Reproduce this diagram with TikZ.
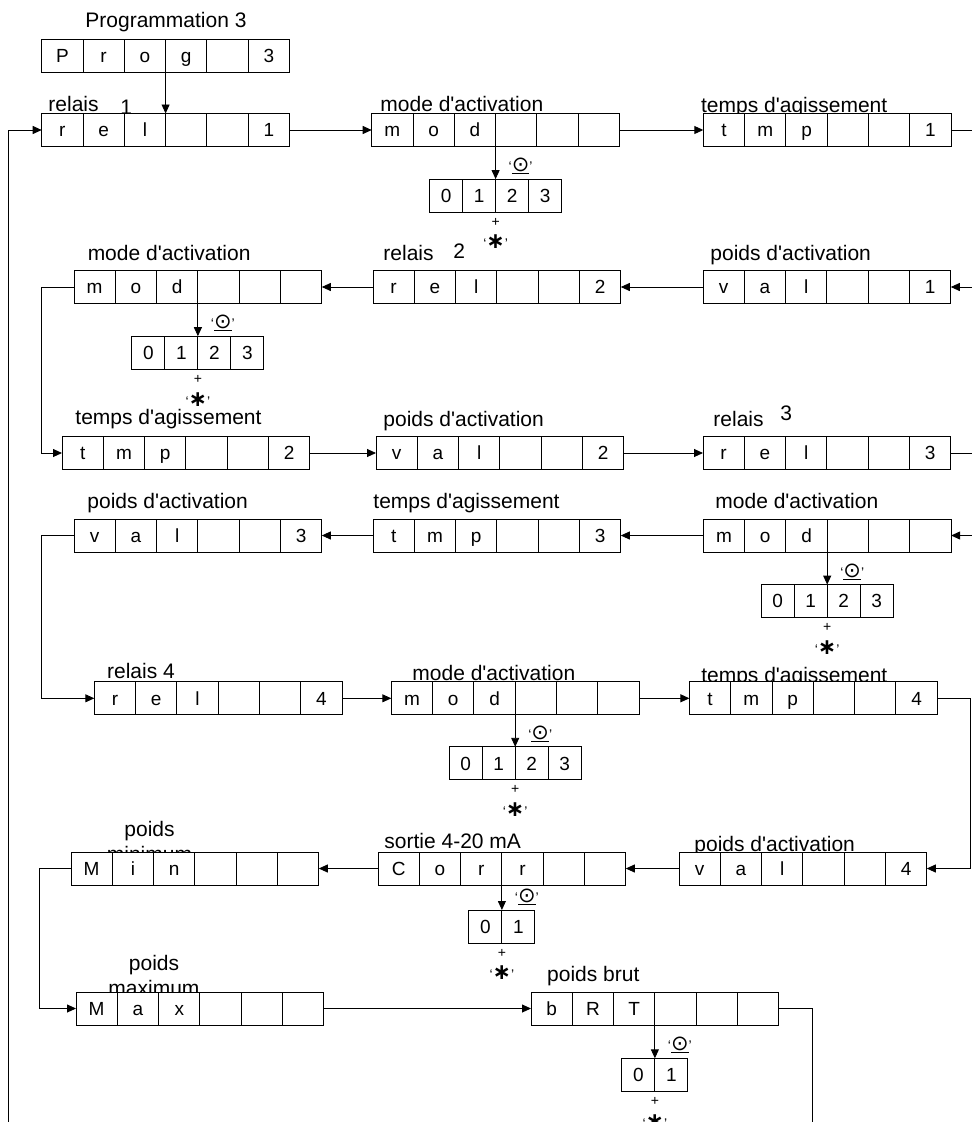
\documentclass[tikz,border=0pt]{standalone}
\usepackage{fontspec}
\setmainfont{Liberation Sans}
\newfontfamily\symfont{DejaVu Sans}
\usetikzlibrary{arrows.meta}
\newcommand{\cellw}{41.3pt}
\tikzset{
  regbox/.style={draw, fill=white, minimum width=247.8pt, minimum height=33pt,
              inner sep=0pt, outer sep=0pt},
  selbox/.style={draw, fill=white, minimum height=33pt, inner sep=0pt, outer sep=0pt},
  celltxt/.style={font=\fontsize{19pt}{19pt}\selectfont, inner sep=0pt, anchor=base},
  lbl/.style={font=\fontsize{21pt}{25pt}\selectfont, inner sep=0pt, anchor=base west},
  lbl2/.style={font=\fontsize{21pt}{25pt}\selectfont, inner sep=0pt, anchor=north, align=center},
  selmark/.style={font=\fontsize{14pt}{14pt}\selectfont, inner sep=0pt},
  plusmark/.style={font=\fontsize{14pt}{14pt}\selectfont, inner sep=0pt},
}
% register with six cells: name, left x, centre y, cell texts
\newcommand{\regbox}[4]{%
  \node[regbox, anchor=west] (#1) at (#2,#3) {};
  \foreach \celltext [count=\k] in {#4}
    \node[celltxt] (#1-\k) at ([xshift={(\k-0.5)*\cellw}, yshift=-6.8pt]#1.west) {\celltext};
  \foreach \k in {1,...,5}
    \draw ([xshift=\k*\cellw]#1.north west) -- ([xshift=\k*\cellw]#1.south west);
}
% selector below a register: name, register, gap, cells, digits
\newcommand{\selbox}[5]{%
  \node[selbox, minimum width=#4*33pt, anchor=north] (#1)
    at ([xshift=3*\cellw, yshift=-#3pt]#2.south west) {};
  \foreach \celltext [count=\k] in {#5}
    \node[celltxt] (#1-\k) at ([xshift={(\k-0.5)*33pt}, yshift=-23.3pt]#1.north west) {\celltext};
  \pgfmathtruncatemacro\lastdiv{#4-1}
  \foreach \k in {1,...,\lastdiv}
    \draw ([xshift=\k*33pt]#1.north west) -- ([xshift=\k*33pt]#1.south west);
  \draw[->] ([xshift=3*\cellw]#2.south west) -- (#1.north);
  \node[selmark] (#1-sel) at ([xshift=25pt, yshift=13pt]#1.north)
    {‘\underline{\fontsize{21pt}{21pt}\symfont ⊙}’};
  \node[plusmark] (#1-plus) at ([yshift=-10pt]#1.south) {+};
  \node[selmark] (#1-star) at ([yshift=-30pt]#1.south)
    {‘{\fontsize{22pt}{22pt}\symfont\bfseries ∗}’};
}

\begin{document}
\begin{tikzpicture}[x=1pt, y=-1pt, line width=0.9pt, >={Triangle[length=9pt,width=8pt]}]
\useasboundingbox (0,0) rectangle (972,1122);

% labels first, the registers hide what they overlap
\node[lbl] (t-prog) at (85,27.5) {Programmation 3};
\node[lbl] (t-rel1) at (48,111) {relais};
\node[lbl] (t-rel1n) at (120,114) {1};
\node[lbl] (t-mod1) at (380,111.7) {mode d\textquotesingle activation};
\node[lbl] (t-tmp1) at (700.7,112.3) {temps d\textquotesingle agissement};
\node[lbl] (t-mod2) at (87.3,260) {mode d\textquotesingle activation};
\node[lbl] (t-rel2) at (383,260) {relais};
\node[lbl] (t-rel2n) at (453,258) {2};
\node[lbl] (t-val1) at (710,260) {poids d\textquotesingle activation};
\node[lbl] (t-tmp2) at (75,424) {temps d\textquotesingle agissement};
\node[lbl] (t-val2) at (383,426) {poids d\textquotesingle activation};
\node[lbl] (t-rel3) at (713,426) {relais};
\node[lbl] (t-rel3n) at (780,420) {3};
\node[lbl] (t-val3) at (87,508) {poids d\textquotesingle activation};
\node[lbl] (t-tmp3) at (373,508) {temps d\textquotesingle agissement};
\node[lbl] (t-mod3) at (715,508) {mode d\textquotesingle activation};
\node[lbl] (t-rel4) at (106.7,678) {relais 4};
\node[lbl] (t-mod4) at (412,680) {mode d\textquotesingle activation};
\node[lbl] (t-tmp4) at (700.8,682) {temps d\textquotesingle agissement};
\node[lbl2] (t-min) at (149.5,821) {poids\\minimum};
\node[lbl] (t-corr) at (384,848) {sortie 4-20 mA};
\node[lbl] (t-val4) at (694,851) {poids d\textquotesingle activation};
\node[lbl2] (t-max) at (154,954.7) {poids\\maximum};
\node[lbl] (t-brt) at (546.7,981.7) {poids brut};

% registers
\regbox{prog}{41.7}{56}{P,r,o,g,{},3}
\regbox{rel1}{41.7}{130}{r,e,l,{},{},1}
\regbox{mod1}{371.7}{130}{m,o,d,{},{},{}}
\regbox{tmp1}{703.3}{130}{t,m,p,{},{},1}
\regbox{mod2}{74}{287}{m,o,d,{},{},{}}
\regbox{rel2}{373}{287}{r,e,l,{},{},2}
\regbox{val1}{703}{287}{v,a,l,{},{},1}
\regbox{tmp2}{62}{453}{t,m,p,{},{},2}
\regbox{val2}{376}{453}{v,a,l,{},{},2}
\regbox{rel3}{703}{453}{r,e,l,{},{},3}
\regbox{val3}{74}{535.5}{v,a,l,{},{},3}
\regbox{tmp3}{373}{535.5}{t,m,p,{},{},3}
\regbox{mod3}{703.3}{535.5}{m,o,d,{},{},{}}
\regbox{rel4}{94.3}{698.3}{r,e,l,{},{},4}
\regbox{mod4}{391.3}{698.3}{m,o,d,{},{},{}}
\regbox{tmp4}{689.4}{698.3}{t,m,p,{},{},4}
\regbox{min}{71}{868.5}{M,i,n,{},{},{}}
\regbox{corr}{378}{868.5}{C,o,r,r,{},{}}
\regbox{val4}{679}{868.5}{v,a,l,{},{},4}
\regbox{max}{76}{1008.5}{M,a,x,{},{},{}}
\regbox{brt}{531}{1008.5}{b,R,T,{},{},{}}

% selectors
\selbox{s1}{mod1}{32.6}{4}{0,1,2,3}
\selbox{s2}{mod2}{32.7}{4}{0,1,2,3}
\selbox{s3}{mod3}{32.6}{4}{0,1,2,3}
\selbox{s4}{mod4}{32}{4}{0,1,2,3}
\selbox{s5}{corr}{25}{2}{0,1}
\selbox{s6}{brt}{33.3}{2}{0,1}

% chain
\coordinate (edgeL) at (8.3,1122);
\coordinate (edgeB) at (812.3,1122);
\draw[->] (edgeL) |- (rel1.west);
\draw[->] ([xshift=3*\cellw]prog.south west) -- ([xshift=3*\cellw]rel1.north west);
\draw[->] (rel1) -- (mod1);
\draw[->] (mod1) -- (tmp1);
\draw[->] (tmp1.east) -- ++(30,0) |- (val1.east);
\draw[->] (val1) -- (rel2);
\draw[->] (rel2) -- (mod2);
\draw[->] (mod2.west) -- ++(-33,0) |- (tmp2.west);
\draw[->] (tmp2) -- (val2);
\draw[->] (val2) -- (rel3);
\draw[->] (rel3.east) -- ++(30,0) |- (mod3.east);
\draw[->] (mod3) -- (tmp3);
\draw[->] (tmp3) -- (val3);
\draw[->] (val3.west) -- ++(-33,0) |- (rel4.west);
\draw[->] (rel4) -- (mod4);
\draw[->] (mod4) -- (tmp4);
\draw[->] (tmp4.east) -- ++(33.4,0) |- (val4.east);
\draw[->] (val4) -- (corr);
\draw[->] (corr) -- (min);
\draw[->] (min.west) -- ++(-32,0) |- (max.west);
\draw[->] (max) -- (brt);
\draw (brt.east) -| (edgeB);
\end{tikzpicture}
\end{document}
